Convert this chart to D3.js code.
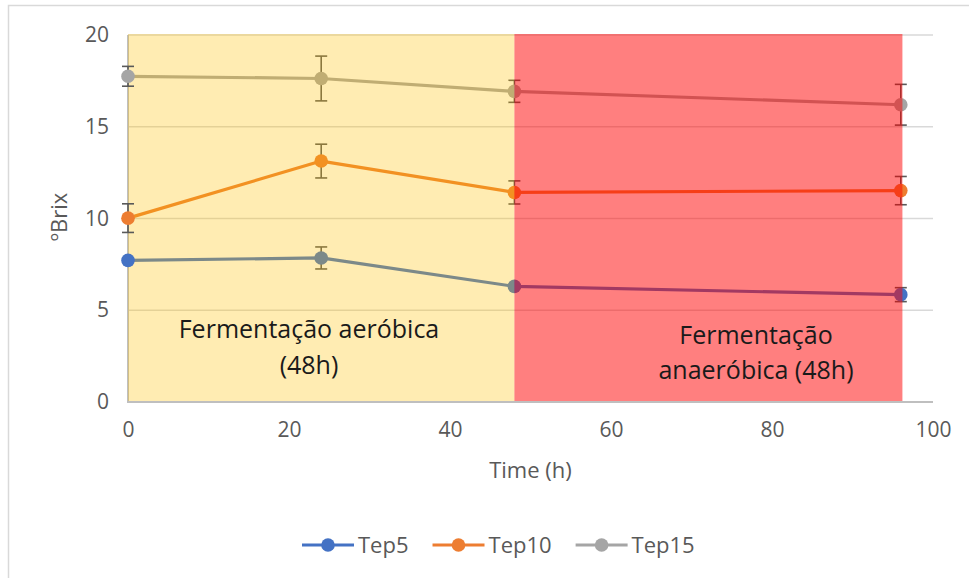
<!DOCTYPE html>
<html>
<head>
<meta charset="utf-8">
<script src="https://cdn.jsdelivr.net/npm/d3@7"></script>
<style>
  html, body { margin: 0; padding: 0; background: #fff; }
  svg { display: block; font-family: "Open Sans", sans-serif; }
</style>
</head>
<body>
<svg id="chart" width="969" height="578"></svg>
<script>
// ---- data ----
const times = [0, 24, 48, 96];
const seriesNames = ["Tep5", "Tep10", "Tep15"];
const tep5 = [7.72, 7.85, 6.3, 5.85];
const tep5Err = [0.1, 0.6, 0.1, 0.38];
const tep10 = [10.02, 13.13, 11.42, 11.52];
const tep10Err = [0.78, 0.92, 0.63, 0.77];
const tep15 = [17.75, 17.63, 16.93, 16.2];
const tep15Err = [0.54, 1.22, 0.6, 1.11];
const yTicks = [0, 5, 10, 15, 20];
const xTicks = [0, 20, 40, 60, 80, 100];
const phases = [
  { label: ["Fermentação aeróbica", "(48h)"], start: 0, end: 48 },
  { label: ["Fermentação", "anaeróbica (48h)"], start: 48, end: 96.2 }
];

const colors = ["#4472C4", "#ED7D31", "#A5A5A5"];
const seriesVals = [tep5, tep10, tep15];
const seriesErr = [tep5Err, tep10Err, tep15Err];
const series = seriesNames.map((name, i) => ({
  name, color: colors[i],
  points: times.map((t, j) => ({ t, v: seriesVals[i][j], e: seriesErr[i][j] }))
}));

// ---- layout ----
const FONT = "'Open Sans', sans-serif";
const svg = d3.select("#chart");
const x = d3.scaleLinear().domain([0, 100]).range([128, 933]);
const y = d3.scaleLinear().domain([0, 20]).range([402, 35]);

// outer chart frame
svg.append("rect").attr("x", 8.5).attr("y", 5.5).attr("width", 970).attr("height", 600)
  .attr("fill", "none").attr("stroke", "#D9D9D9").attr("stroke-width", 1.5);

// gridlines
svg.append("g").selectAll("line").data(yTicks.filter(d => d > 0)).join("line")
  .attr("x1", x(0)).attr("x2", x(100))
  .attr("y1", d => y(d)).attr("y2", d => y(d))
  .attr("stroke", "#D9D9D9").attr("stroke-width", 1.5);

// axes lines
svg.append("line").attr("x1", x(0)).attr("x2", x(0)).attr("y1", y(20)).attr("y2", y(0))
  .attr("stroke", "#BFBFBF").attr("stroke-width", 2);
svg.append("line").attr("x1", x(0) - 1).attr("x2", x(100)).attr("y1", y(0)).attr("y2", y(0))
  .attr("stroke", "#BFBFBF").attr("stroke-width", 2);

// axis tick labels via d3 axes
const yAxis = svg.append("g").attr("transform", `translate(${x(0)},0)`)
  .call(d3.axisLeft(y).tickValues(yTicks).tickSize(0).tickPadding(19));
yAxis.select(".domain").remove();
yAxis.selectAll("text").attr("fill", "#595959").style("font-size", "21px")
  .style("font-family", FONT);

const xAxis = svg.append("g").attr("transform", `translate(0,${y(0)})`)
  .call(d3.axisBottom(x).tickValues(xTicks).tickSize(0).tickPadding(20));
xAxis.select(".domain").remove();
xAxis.selectAll("text").attr("fill", "#595959").style("font-size", "21px")
  .style("font-family", FONT);

// axis titles
svg.append("text").attr("x", (x(0) + x(100)) / 2).attr("y", 478)
  .attr("text-anchor", "middle").attr("fill", "#595959").style("font-size", "22px")
  .text("Time (h)");
svg.append("text").attr("transform", `translate(67,217) rotate(-90)`)
  .attr("text-anchor", "middle").attr("fill", "#595959").style("font-size", "22px")
  .text("ºBrix");

// series
const line = d3.line().x(d => x(d.t)).y(d => y(d.v));
function drawErr(g, s, pts) {
  const eg = g.append("g");
  pts.forEach(p => {
    eg.append("line").attr("x1", x(p.t)).attr("x2", x(p.t))
      .attr("y1", y(p.v + p.e)).attr("y2", y(p.v - p.e))
      .attr("stroke", "#595959").attr("stroke-width", 1.6);
    [p.v + p.e, p.v - p.e].forEach(v => {
      eg.append("line").attr("x1", x(p.t) - 6).attr("x2", x(p.t) + 6)
        .attr("y1", y(v)).attr("y2", y(v))
        .attr("stroke", "#595959").attr("stroke-width", 1.6);
    });
  });
}
const sg = svg.append("g");
series.forEach(s => {
  sg.append("path").datum(s.points).attr("d", line)
    .attr("fill", "none").attr("stroke", s.color).attr("stroke-width", 3.2)
    .attr("stroke-linejoin", "round");
});
series.forEach(s => drawErr(sg, s, s.points.filter(p => p.t > 0)));
series.forEach(s => {
  sg.selectAll(null).data(s.points.filter(p => p.t > 0)).join("circle")
    .attr("cx", d => x(d.t)).attr("cy", d => y(d.v)).attr("r", 6.8).attr("fill", s.color);
});

// phase overlays
const phaseFill = ["#FFC000", "#FF0000"];
const phaseOp = [0.3, 0.5];
svg.append("g").selectAll("rect").data(phases).join("rect")
  .attr("x", d => x(d.start)).attr("y", y(20) - 1)
  .attr("width", d => x(d.end) - x(d.start)).attr("height", y(0) - y(20))
  .attr("fill", (d, i) => phaseFill[i]).attr("fill-opacity", (d, i) => phaseOp[i]);

// markers at time 0 (drawn above overlay)
const sg0 = svg.append("g");
series.forEach(s => drawErr(sg0, s, s.points.filter(p => p.t === 0)));
series.forEach(s => {
  sg0.selectAll(null).data(s.points.filter(p => p.t === 0)).join("circle")
    .attr("cx", d => x(d.t)).attr("cy", d => y(d.v)).attr("r", 6.8).attr("fill", s.color);
});

// phase labels
const labelY = [[338, 374], [344, 379]];
phases.forEach((ph, i) => {
  const cx = i === 0 ? 309 : 756;
  ph.label.forEach((t, j) => {
    svg.append("text").attr("x", cx).attr("y", labelY[i][j])
      .attr("text-anchor", "middle").attr("fill", "#1a1a1a").style("font-size", "25px")
      .text(t);
  });
});

// legend
const lg = svg.append("g");
let lx = 302;
series.forEach(s => {
  const g = lg.append("g");
  g.append("line").attr("x1", lx).attr("x2", lx + 52).attr("y1", 545).attr("y2", 545)
    .attr("stroke", s.color).attr("stroke-width", 3.2);
  g.append("circle").attr("cx", lx + 26).attr("cy", 545).attr("r", 6.8).attr("fill", s.color);
  const t = g.append("text").attr("x", lx + 56).attr("y", 553).attr("fill", "#595959")
    .style("font-size", "22px").text(s.name);
  lx += 56 + t.node().getComputedTextLength() + 24;
});
</script>
</body>
</html>
